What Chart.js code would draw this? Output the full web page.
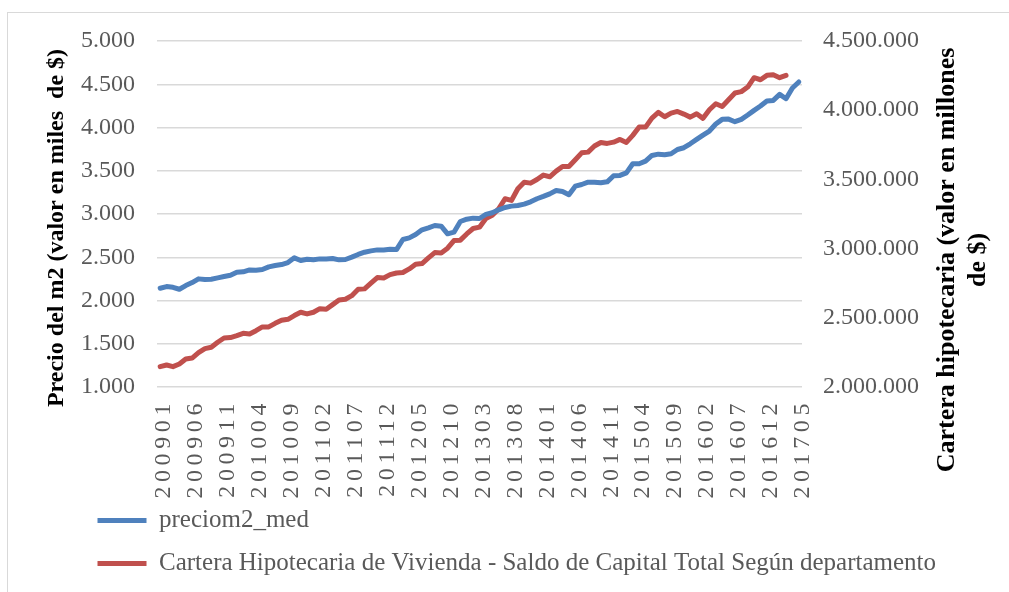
<!DOCTYPE html>
<html lang="es">
<head>
<meta charset="utf-8">
<title>Precio del m2 y cartera hipotecaria</title>
<script src="https://cdn.jsdelivr.net/npm/chart.js@4/dist/chart.umd.min.js"></script>
<style>
    html, body { margin: 0; padding: 0; background: #fff; overflow: hidden; }
    #marco { position: absolute; left: 7px; top: 12px; width: 1100px; height: 700px; border: 1.5px solid #d9d9d9; }
    #contenedor { position: absolute; left: 0; top: 0; width: 1009px; height: 592px; }
</style>
</head>
<body>
<div id="marco"></div>
<div id="contenedor"><canvas id="grafico"></canvas></div>
<script>
// Meses (aaaamm)
const meses = [
    '200901','200902','200903','200904','200905','200906','200907','200908','200909','200910','200911','200912',
    '201001','201002','201003','201004','201005','201006','201007','201008','201009','201010','201011','201012',
    '201101','201102','201103','201104','201105','201106','201107','201108','201109','201110','201111','201112',
    '201201','201202','201203','201204','201205','201206','201207','201208','201209','201210','201211','201212',
    '201301','201302','201303','201304','201305','201306','201307','201308','201309','201310','201311','201312',
    '201401','201402','201403','201404','201405','201406','201407','201408','201409','201410','201411','201412',
    '201501','201502','201503','201504','201505','201506','201507','201508','201509','201510','201511','201512',
    '201601','201602','201603','201604','201605','201606','201607','201608','201609','201610','201611','201612',
    '201701','201702','201703','201704','201705'
];

// preciom2_med (miles de $)
const precioM2 = [
    2142, 2161, 2153, 2130, 2173, 2207, 2250, 2242, 2246, 2261,
    2277, 2292, 2327, 2331, 2354, 2350, 2358, 2389, 2404, 2416,
    2439, 2493, 2462, 2477, 2470, 2481, 2481, 2485, 2470, 2474,
    2501, 2532, 2558, 2574, 2585, 2585, 2593, 2589, 2705, 2724,
    2763, 2817, 2840, 2867, 2859, 2771, 2790, 2913, 2940, 2952,
    2948, 2995, 3014, 3048, 3075, 3091, 3098, 3114, 3141, 3176,
    3203, 3233, 3272, 3260, 3222, 3322, 3341, 3368, 3368, 3361,
    3372, 3442, 3446, 3476, 3581, 3581, 3611, 3677, 3692, 3685,
    3696, 3746, 3766, 3812, 3862, 3912, 3959, 4040, 4094, 4097,
    4067, 4094, 4144, 4198, 4248, 4306, 4313, 4383, 4333, 4456,
    4526
];

// Cartera hipotecaria (millones de $), termina en 201703
const cartera = [
    2147000, 2159000, 2147000, 2166000, 2202000, 2209000, 2248000, 2277000, 2287000, 2323000,
    2354000, 2357000, 2371000, 2388000, 2383000, 2407000, 2434000, 2434000, 2460000, 2482000,
    2489000, 2516000, 2540000, 2528000, 2540000, 2566000, 2562000, 2595000, 2629000, 2634000,
    2660000, 2706000, 2709000, 2750000, 2791000, 2788000, 2812000, 2824000, 2827000, 2853000,
    2887000, 2892000, 2933000, 2971000, 2969000, 3003000, 3058000, 3061000, 3106000, 3145000,
    3155000, 3218000, 3241000, 3287000, 3360000, 3348000, 3432000, 3480000, 3473000, 3499000,
    3531000, 3519000, 3560000, 3593000, 3593000, 3642000, 3692000, 3697000, 3741000, 3767000,
    3760000, 3769000, 3789000, 3767000, 3818000, 3878000, 3878000, 3943000, 3984000, 3953000,
    3979000, 3991000, 3972000, 3950000, 3974000, 3941000, 4003000, 4047000, 4027000, 4076000,
    4124000, 4134000, 4167000, 4235000, 4220000, 4252000, 4256000, 4235000, 4252000
];

const nombreSerie1 = 'preciom2_med';
const nombreSerie2 = 'Cartera Hipotecaria de Vivienda - Saldo de Capital Total Según departamento';
const tituloIzq = 'Precio del m2 (valor en miles  de $)';
const tituloDer = ['Cartera hipotecaria (valor en millones', 'de $)'];

const fuente = '"Liberation Serif", "Times New Roman", serif';
const gris = '#595959';

// separador de miles con punto
function formatoMiles(v) {
    return Number(v).toLocaleString('de-DE');
}

// etiquetas del eje x con espaciado entre letras y sin recorte
const etiquetasEspaciadas = {
    id: 'etiquetasEspaciadas',
    afterLayout(chart) {
        const sc = chart.scales.x;
        if (!sc || sc.drawLabels._espaciado) return;
        const original = sc.drawLabels;
        const nuevo = function(area) {
            this.ctx.save();
            this.ctx.letterSpacing = '4.6px';
            original.call(this, area);
            this.ctx.restore();
        };
        nuevo._espaciado = true;
        sc.drawLabels = nuevo;
        sc._computeLabelArea = function() { return undefined; };
    }
};

// títulos de los ejes (ambos leídos de abajo hacia arriba)
const titulosEjes = {
    id: 'titulosEjes',
    afterDraw(chart) {
        const ctx = chart.ctx;
        const area = chart.chartArea;
        const medio = (area.top + area.bottom) / 2;
        ctx.save();
        ctx.fillStyle = '#000';
        ctx.textAlign = 'center';
        ctx.textBaseline = 'middle';

        ctx.save();
        ctx.font = 'bold 24px ' + fuente;
        ctx.translate(area.left - 100, medio + 14);
        ctx.rotate(-Math.PI / 2);
        ctx.fillText(tituloIzq, 0, 0);
        ctx.restore();

        ctx.save();
        ctx.font = 'bold 26px ' + fuente;
        ctx.translate(area.right + 145, medio + 46);
        ctx.rotate(-Math.PI / 2);
        tituloDer.forEach((linea, i) => ctx.fillText(linea, 0, i * 31));
        ctx.restore();

        ctx.restore();
    }
};

window.addEventListener('DOMContentLoaded', function() {
    const ctx = document.getElementById('grafico').getContext('2d');

    new Chart(ctx, {
        type: 'line',
        data: {
            labels: meses,
            datasets: [{
                label: nombreSerie1,
                data: precioM2,
                yAxisID: 'y',
                borderColor: '#4f81bd',
                backgroundColor: '#4f81bd',
                borderWidth: 5,
                borderCapStyle: 'round',
                borderJoinStyle: 'round',
                pointRadius: 0,
                tension: 0
            }, {
                label: nombreSerie2,
                data: cartera,
                yAxisID: 'y1',
                borderColor: '#c0504d',
                backgroundColor: '#c0504d',
                borderWidth: 5,
                borderCapStyle: 'round',
                borderJoinStyle: 'round',
                pointRadius: 0,
                tension: 0
            }]
        },
        options: {
            responsive: true,
            maintainAspectRatio: false,
            animation: false,
            layout: {
                padding: { left: 79.5, right: 0, top: 41, bottom: 6 }
            },
            plugins: {
                tooltip: { enabled: false },
                legend: {
                    position: 'bottom',
                    align: 'start',
                    labels: {
                        usePointStyle: true,
                        pointStyle: 'line',
                        pointStyleWidth: 49,
                        padding: 18,
                        color: gris,
                        font: { family: fuente, size: 25 }
                    }
                }
            },
            scales: {
                x: {
                    offset: true,
                    grid: { display: false, drawTicks: false },
                    border: { display: false },
                    ticks: {
                        autoSkip: false,
                        minRotation: 90,
                        maxRotation: 90,
                        padding: 12,
                        labelOffset: 4,
                        color: gris,
                        font: { family: fuente, size: 24 },
                        callback: function(val, i) {
                            return i % 5 === 0 ? this.getLabelForValue(val) : '';
                        }
                    },
                    afterFit: function(scale) { scale.height = 103; }
                },
                y: {
                    position: 'left',
                    min: 1000,
                    max: 5000,
                    grid: { color: '#d9d9d9', lineWidth: 1.5, drawTicks: false },
                    border: { display: false },
                    ticks: {
                        stepSize: 500,
                        padding: 22,
                        color: gris,
                        font: { family: fuente, size: 24 },
                        callback: formatoMiles
                    },
                    afterFit: function(scale) { scale.width = 77.5; }
                },
                y1: {
                    position: 'right',
                    min: 2000000,
                    max: 4500000,
                    grid: { display: false, drawTicks: false },
                    border: { display: false },
                    ticks: {
                        stepSize: 500000,
                        padding: 21,
                        color: gris,
                        font: { family: fuente, size: 24 },
                        callback: formatoMiles
                    },
                    afterFit: function(scale) { scale.width = 207; }
                }
            }
        },
        plugins: [etiquetasEspaciadas, titulosEjes]
    });
});
</script>
</body>
</html>
